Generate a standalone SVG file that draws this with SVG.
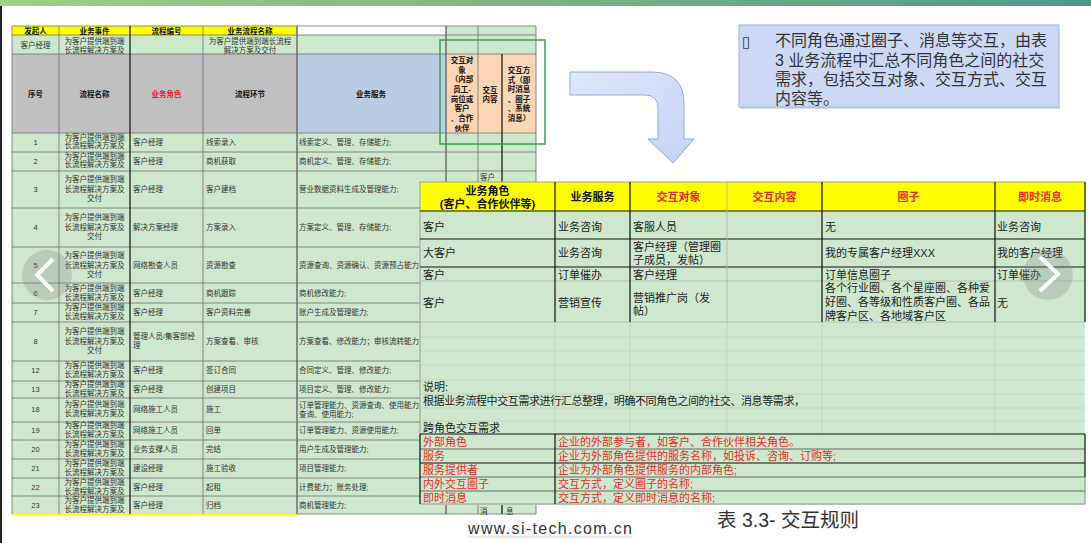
<svg xmlns="http://www.w3.org/2000/svg" width="1091" height="543" viewBox="0 0 1091 543">
<defs>
<linearGradient id="topbar" x1="0" y1="0" x2="1" y2="0"><stop offset="0" stop-color="#a3cf83"/><stop offset="1" stop-color="#4f978a"/></linearGradient>
<linearGradient id="arrowg" x1="0" y1="0" x2="1" y2="1"><stop offset="0" stop-color="#dfe8fb"/><stop offset="1" stop-color="#c3d3f4"/></linearGradient>
<style>
.t{font-family:'Liberation Sans','Noto Sans CJK SC',sans-serif;fill:#333;}
.s{font-size:7.5px;}
.sb{font-size:7.5px;font-weight:bold;fill:#111;}
.c{text-anchor:middle;}
.r{fill:#e8211d;}
.m{font-size:11px;fill:#222;}
.mb{font-size:11px;font-weight:bold;fill:#111;}
.red{font-size:11px;fill:#ee2a24;}
.g{fill:none;stroke:#6e6e6e;stroke-width:0.8;}
.k{fill:none;stroke:#111;stroke-width:1.2;}
.lg{fill:none;stroke:#bcd2bc;stroke-width:0.8;}
</style>
</defs>
<rect width="1091" height="543" fill="#fff"/>
<rect x="0" y="0" width="1091" height="6" fill="url(#topbar)"/>
<rect x="0" y="6" width="2" height="537" fill="#222"/>

<g id="left-table">
<rect x="12" y="26" width="285" height="9" fill="#ffff00"/>
<rect x="446" y="26" width="90" height="9" fill="#cde8cd"/>
<rect x="12" y="35" width="524" height="19" fill="#cde8cd"/>
<rect x="12" y="54" width="285" height="79" fill="#c0c0c0"/>
<rect x="297" y="54" width="149" height="79" fill="#b8cce4"/>
<rect x="446" y="54" width="90" height="79" fill="#fcd5b4"/>
<rect x="12" y="133" width="524" height="381" fill="#cde8cd"/>
<rect x="12" y="513" width="285" height="2" fill="#ffff00"/>
<g class="g">
<path d="M12 26H536M12 35H536M12 54H536M12 133H536M12 152H536M12 171H536M12 208H536M12 247H536M12 283H536M12 303H536M12 322H536M12 361H536M12 381H536M12 398H536M12 422H536M12 440H536M12 459H536M12 478H536M12 496H536M297 514H536"/>
<path d="M12 26V514M59 26V514M203 26V514M478 26V514M536 26V514"/>
<path d="M297 26V514M446 26V514" stroke-width="1.5"/>
</g>
<path class="k" d="M130 26V514M502 54V514" stroke-width="1.4"/>
<g class="t">
<text class="sb c" x="35.5" y="33.5">发起人</text>
<text class="sb c" x="94.5" y="33.5">业务事件</text>
<text class="sb c" x="166.5" y="33.5">流程编号</text>
<text class="sb c" x="250" y="33.5">业务流程名称</text>
<text class="s c" x="35.5" y="47.5">客户经理</text>
<text class="s c" x="94.5" y="44">为客户提供端到端</text>
<text class="s c" x="94.5" y="53">长流程解决方案及</text>
<text class="s c" x="250" y="44">为客户提供端到端长流程</text>
<text class="s c" x="250" y="53">解决方案及交付</text>
<text class="sb c" x="35.5" y="96.5">序号</text>
<text class="sb c" x="94.5" y="96.5">流程名称</text>
<text class="sb c r" x="166.5" y="96.5">业务角色</text>
<text class="sb c" x="250" y="96.5">流程环节</text>
<text class="sb c" x="371" y="96.5">业务服务</text>
<text class="sb c" x="462" y="63">交互对</text>
<text class="sb c" x="462" y="73">象</text>
<text class="sb c" x="462" y="82">（内部</text>
<text class="sb c" x="462" y="92">员工-</text>
<text class="sb c" x="462" y="102">岗位或</text>
<text class="sb c" x="462" y="111">客户</text>
<text class="sb c" x="462" y="121">、合作</text>
<text class="sb c" x="462" y="131">伙伴</text>
<text class="sb c" x="490" y="93">交互</text>
<text class="sb c" x="490" y="102">内容</text>
<text class="sb c" x="519" y="73">交互方</text>
<text class="sb c" x="519" y="83">式（即</text>
<text class="sb c" x="519" y="92">时消息</text>
<text class="sb c" x="519" y="102">、圈子</text>
<text class="sb c" x="519" y="111">、系统</text>
<text class="sb c" x="519" y="121">消息）</text>
<text class="s" x="480" y="180">客户</text>
<text class="s" x="480" y="514">消</text>
<text class="s" x="506" y="514">息</text>
</g>
<g class="t s">
<text class="c" x="35.5" y="145">1</text><text class="c" x="94.5" y="140">为客户提供端到端</text><text class="c" x="94.5" y="148">长流程解决方案及</text><text x="133" y="145">客户经理</text><text x="206" y="145">线索录入</text><text x="299" y="145">线索定义、管理、存储能力;</text>
<text class="c" x="35.5" y="164">2</text><text class="c" x="94.5" y="159">为客户提供端到端</text><text class="c" x="94.5" y="167">长流程解决方案及</text><text x="133" y="164">客户经理</text><text x="206" y="164">商机获取</text><text x="299" y="164">商机定义、管理、存储能力;</text>
<text class="c" x="35.5" y="192">3</text><text class="c" x="94.5" y="182">为客户提供端到端</text><text class="c" x="94.5" y="192">长流程解决方案及</text><text class="c" x="94.5" y="201">交付</text><text x="133" y="192">客户经理</text><text x="206" y="192">客户建档</text><text x="299" y="192">营业数据资料生成及管理能力;</text>
<text class="c" x="35.5" y="230">4</text><text class="c" x="94.5" y="220">为客户提供端到端</text><text class="c" x="94.5" y="230">长流程解决方案及</text><text class="c" x="94.5" y="239">交付</text><text x="133" y="230">解决方案经理</text><text x="206" y="230">方案录入</text><text x="299" y="230">方案定义、管理、存储能力;</text>
<text class="c" x="35.5" y="268">5</text><text class="c" x="94.5" y="258">为客户提供端到端</text><text class="c" x="94.5" y="268">长流程解决方案及</text><text class="c" x="94.5" y="277">交付</text><text x="133" y="268">网络勘查人员</text><text x="206" y="268">资源勘查</text><text x="299" y="268">资源查询、资源确认、资源预占能力</text>
<text class="c" x="35.5" y="296">6</text><text class="c" x="94.5" y="291">为客户提供端到端</text><text class="c" x="94.5" y="300">长流程解决方案及</text><text x="133" y="296">客户经理</text><text x="206" y="296">商机跟踪</text><text x="299" y="296">商机修改能力;</text>
<text class="c" x="35.5" y="315">7</text><text class="c" x="94.5" y="310">为客户提供端到端</text><text class="c" x="94.5" y="319">长流程解决方案及</text><text x="133" y="315">客户经理</text><text x="206" y="315">客户资料完善</text><text x="299" y="315">账户生成及管理能力;</text>
<text class="c" x="35.5" y="344">8</text><text class="c" x="94.5" y="334">为客户提供端到端</text><text class="c" x="94.5" y="344">长流程解决方案及</text><text class="c" x="94.5" y="353">交付</text><text x="133" y="339">管理人员/集客部经</text><text x="133" y="348">理</text><text x="206" y="344">方案查看、审核</text><text x="299" y="344">方案查看、修改能力；审核流转能力</text>
<text class="c" x="35.5" y="373">12</text><text class="c" x="94.5" y="368">为客户提供端到端</text><text class="c" x="94.5" y="377">长流程解决方案及</text><text x="133" y="373">客户经理</text><text x="206" y="373">签订合同</text><text x="299" y="373">合同定义、管理、修改能力;</text>
<text class="c" x="35.5" y="392">13</text><text class="c" x="94.5" y="387">为客户提供端到端</text><text class="c" x="94.5" y="396">长流程解决方案及</text><text x="133" y="392">客户经理</text><text x="206" y="392">创建项目</text><text x="299" y="392">项目定义、管理、修改能力;</text>
<text class="c" x="35.5" y="412">18</text><text class="c" x="94.5" y="407">为客户提供端到端</text><text class="c" x="94.5" y="416">长流程解决方案及</text><text x="133" y="412">网络施工人员</text><text x="206" y="412">施工</text><text x="299" y="408">订单管理能力、资源查询、使用能力</text><text x="299" y="417">查询、使用能力;</text>
<text class="c" x="35.5" y="433">19</text><text class="c" x="94.5" y="428">为客户提供端到端</text><text class="c" x="94.5" y="437">长流程解决方案及</text><text x="133" y="433">网络施工人员</text><text x="206" y="433">回单</text><text x="299" y="433">订单管理能力、资源使用能力;</text>
<text class="c" x="35.5" y="452">20</text><text class="c" x="94.5" y="447">为客户提供端到端</text><text class="c" x="94.5" y="456">长流程解决方案及</text><text x="133" y="452">业务支撑人员</text><text x="206" y="452">完结</text><text x="299" y="452">用户生成及管理能力;</text>
<text class="c" x="35.5" y="471">21</text><text class="c" x="94.5" y="466">为客户提供端到端</text><text class="c" x="94.5" y="475">长流程解决方案及</text><text x="133" y="471">建设经理</text><text x="206" y="471">施工验收</text><text x="299" y="471">项目管理能力;</text>
<text class="c" x="35.5" y="490">22</text><text class="c" x="94.5" y="485">为客户提供端到端</text><text class="c" x="94.5" y="494">长流程解决方案及</text><text x="133" y="490">客户经理</text><text x="206" y="490">起租</text><text x="299" y="490">计费能力；账务处理;</text>
<text class="c" x="35.5" y="508">23</text><text class="c" x="94.5" y="503">为客户提供端到端</text><text class="c" x="94.5" y="512">长流程解决方案及</text><text x="133" y="508">客户经理</text><text x="206" y="508">归档</text><text x="299" y="508">商机管理能力;</text>
</g>
</g>

<g id="highlight">
<rect x="440" y="40" width="105" height="104" fill="none" stroke="#3a9e4a" stroke-width="1.5"/>
</g>

<g id="connectors">
<path d="M570 72 L652 72 Q684 72 684 104 L684 139 L694 139 L673 163 L648 139 L658 139 L658 108 Q658 95 645 95 L570 95 Z" fill="url(#arrowg)" stroke="#8eaadc" stroke-width="1"/>
</g>

<g id="note">
<rect x="740" y="107" width="320" height="2" fill="#dcdcdc"/>
<rect x="739" y="25" width="320" height="82" fill="#ccd9f6" stroke="#98b2e0" stroke-width="1"/>
<text x="742" y="47" font-family="'DejaVu Sans',sans-serif" font-size="15" fill="#333">▯</text>
<g class="t" font-size="16" fill="#222">
<text x="775" y="46">不同角色通过圈子、消息等交互，由表</text>
<text x="775" y="65.5">3 业务流程中汇总不同角色之间的社交</text>
<text x="775" y="85">需求，包括交互对象、交互方式、交互</text>
<text x="775" y="104">内容等。</text>
</g>
</g>

<g id="right-table">
<rect x="420" y="182" width="665" height="323" fill="#cde8cd"/>
<rect x="420" y="182" width="665" height="29" fill="#ffff00"/>
<g class="lg">
<path d="M420 337H1085M420 351H1085M420 365H1085M420 380H1085M420 394H1085M420 408H1085M420 421H1085"/>
<path d="M555 322V434M630 322V434M727 322V434M822 322V434M995 322V434"/>
</g>
<path d="M420 182H1085" stroke="#9a9a9a" stroke-width="1" fill="none"/>
<path d="M420 182V434" stroke="#9a9a9a" stroke-width="1" fill="none"/>
<path class="k" d="M420 211H1085M420 239H1085"/>
<path d="M420 267H1085" stroke="#555" stroke-width="1.5" fill="none"/>
<path d="M420 281H1085M420 322H1085" stroke="#b0b8b0" stroke-width="0.8" fill="none"/>
<path d="M727 182V322" stroke="#b0b0b0" stroke-width="0.8" fill="none"/>
<path class="k" d="M555 182V322M630 182V322M822 182V322M995 182V322M1085 182V322"/>
<g class="t">
<text class="mb c" x="487.5" y="195">业务角色</text>
<text class="mb c" x="487.5" y="208">(客户、合作伙伴等)</text>
<text class="mb c" x="592.5" y="201">业务服务</text>
<text class="mb c red" font-weight="bold" x="678.5" y="201">交互对象</text>
<text class="mb c red" font-weight="bold" x="774.5" y="201">交互内容</text>
<text class="mb c red" font-weight="bold" x="908.5" y="201">圈子</text>
<text class="mb c red" font-weight="bold" x="1040" y="201">即时消息</text>
<text class="m" x="423" y="231">客户</text>
<text class="m" x="558" y="231">业务咨询</text>
<text class="m" x="633" y="231">客服人员</text>
<text class="m" x="825" y="231">无</text>
<text class="m" x="997" y="231">业务咨询</text>
<text class="m" x="423" y="257">大客户</text>
<text class="m" x="558" y="257">业务咨询</text>
<text class="m" x="633" y="251">客户经理（管理圈</text>
<text class="m" x="633" y="264">子成员，发帖）</text>
<text class="m" x="825" y="257">我的专属客户经理XXX</text>
<text class="m" x="997" y="257">我的客户经理</text>
<text class="m" x="423" y="279">客户</text>
<text class="m" x="558" y="279">订单催办</text>
<text class="m" x="633" y="279">客户经理</text>
<text class="m" x="825" y="279">订单信息圈子</text>
<text class="m" x="997" y="279">订单催办</text>
<text class="m" x="423" y="307">客户</text>
<text class="m" x="558" y="307">营销宣传</text>
<text class="m" x="633" y="302">营销推广岗（发</text>
<text class="m" x="633" y="315">帖）</text>
<text class="m" x="825" y="292">各个行业圈、各个星座圈、各种爱</text>
<text class="m" x="825" y="306">好圈、各等级和性质客户圈、各品</text>
<text class="m" x="825" y="320">牌客户区、各地域客户区</text>
<text class="m" x="997" y="307">无</text>
<text class="m" x="423" y="391">说明:</text>
<text class="m" x="423" y="405" textLength="382">根据业务流程中交互需求进行汇总整理，明确不同角色之间的社交、消息等需求，</text>
<text class="m" x="423" y="432" font-size="12">跨角色交互需求</text>
</g>
<path d="M420 449H1085M420 477H1085M420 491H1085" stroke="#666" stroke-width="1" fill="none"/>
<path d="M420 504H1085" stroke="#9a9a9a" stroke-width="1" fill="none"/>
<path class="k" d="M420 434H1085M420 463H1085M420 434V504M555 434V504M1085 434V477"/>
<path d="M1085 477V504" stroke="#888" stroke-width="1" fill="none"/>
<g class="t">
<text class="red" x="423" y="445.5">外部角色</text>
<text class="red" x="558" y="445.5">企业的外部参与者，如客户、合作伙伴相关角色。</text>
<text class="red" x="423" y="460">服务</text>
<text class="red" x="558" y="460">企业为外部角色提供的服务名称，如投诉、咨询、订购等;</text>
<text class="red" x="423" y="474">服务提供者</text>
<text class="red" x="558" y="474">企业为外部角色提供服务的内部角色;</text>
<text class="red" x="423" y="488">内外交互圈子</text>
<text class="red" x="558" y="488">交互方式，定义圈子的名称;</text>
<text class="red" x="423" y="501.5">即时消息</text>
<text class="red" x="558" y="501.5">交互方式，定义即时消息的名称;</text>
</g>
</g>

<g id="caption">
<text class="t" x="717" y="527" font-size="19.5" fill="#333">表 3.3- 交互规则</text>
<text class="t" x="468" y="534" font-size="16" fill="#a8a8a8" textLength="164">www.si-tech.com.cn</text>
<path d="M468 537H632" stroke="#d0d0d0" stroke-width="1"/>
</g>

<g id="nav">
<circle cx="47" cy="275" r="25" fill="#8a8a8a" fill-opacity="0.3"/>
<path d="M53 259L37 275L53 291" fill="none" stroke="#fff" stroke-width="4"/>
<circle cx="1048" cy="275" r="25" fill="#8a8a8a" fill-opacity="0.3"/>
<path d="M1040 257L1058 274L1040 291" fill="none" stroke="#fff" stroke-width="4"/>
</g>
</svg>
